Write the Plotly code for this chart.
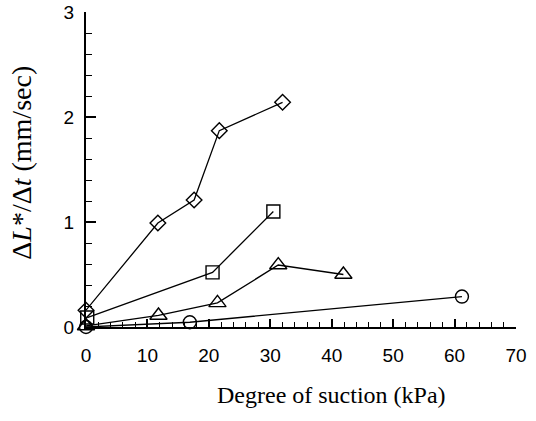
import plotly.graph_objects as go

# Data
diamond_x = [0.0, 11.7, 17.6, 21.7, 32.0]
diamond_y = [0.16, 0.99, 1.21, 1.87, 2.14]

square_x = [0.2, 20.6, 30.5]
square_y = [0.09, 0.52, 1.10]

triangle_x = [0.0, 11.8, 21.4, 31.3, 41.9]
triangle_y = [0.01, 0.11, 0.23, 0.59, 0.50]

circle_x = [0.0, 16.9, 61.2]
circle_y = [0.0, 0.045, 0.29]

x_ticks = [0, 10, 20, 30, 40, 50, 60, 70]
y_ticks = [0, 1, 2, 3]

series = [
    (diamond_x, diamond_y, "diamond-open", 12),
    (square_x, square_y, "square-open", 13),
    (triangle_x, triangle_y, "triangle-up-open", 15),
    (circle_x, circle_y, "circle-open", 13),
]

fig = go.Figure()
for xs, ys, sym, sz in series:
    fig.add_trace(go.Scatter(
        x=xs, y=ys, mode="lines+markers",
        line=dict(color="black", width=1.3),
        marker=dict(symbol=sym, size=sz, color="black",
                    line=dict(color="black", width=1.4)),
        cliponaxis=False, showlegend=False,
    ))

tickfont = dict(family="Liberation Sans, Arial, sans-serif", size=19, color="black")

fig.update_layout(
    width=536, height=421,
    margin=dict(l=86, r=20, t=12, b=94),
    paper_bgcolor="white", plot_bgcolor="white",
    xaxis=dict(
        range=[0, 70], tickvals=x_ticks, ticks="inside", ticklen=8, tickwidth=1.5,
        tickcolor="black", showline=True, linecolor="black", linewidth=2,
        showgrid=False, zeroline=False, tickfont=tickfont, automargin=False,
        ticklabelstandoff=10,
        minor=dict(ticks="inside", ticklen=5, tickwidth=1, dtick=2, tickcolor="black", showgrid=False),
    ),
    yaxis=dict(
        range=[0, 3], tickvals=y_ticks, ticks="inside", ticklen=10, tickwidth=1.5,
        tickcolor="black", showline=True, linecolor="black", linewidth=2,
        showgrid=False, zeroline=False, tickfont=tickfont, automargin=False,
        ticklabelstandoff=6,
        minor=dict(ticks="inside", ticklen=6, tickwidth=1, dtick=0.2, tickcolor="black", showgrid=False),
    ),
    annotations=[
        dict(text="Degree of suction (kPa)", xref="paper", yref="paper",
             x=0.572, y=-0.216, showarrow=False, xanchor="center", yanchor="middle",
             font=dict(family="Liberation Serif, Times New Roman, serif", size=24, color="black")),
        dict(text="Δ<i>L</i>*/Δ<i>t</i> (mm/sec)", xref="paper", yref="paper",
             x=-0.15, y=0.52, showarrow=False, textangle=-90, xanchor="center", yanchor="middle",
             font=dict(family="Liberation Serif, Times New Roman, serif", size=28, color="black")),
    ],
)

fig.write_html("out.html")
